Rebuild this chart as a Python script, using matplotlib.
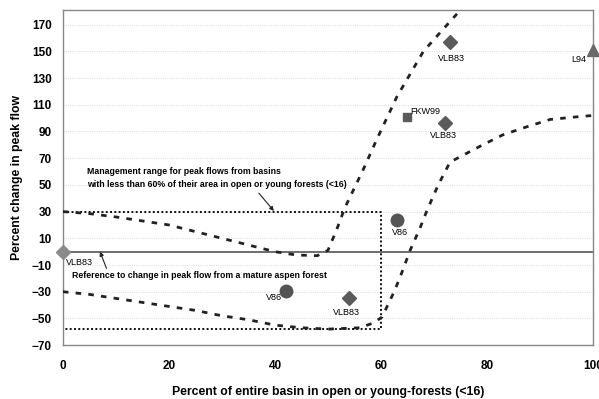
import numpy as np
import matplotlib.pyplot as plt

plt.rcParams['font.family'] = ['Liberation Sans', 'DejaVu Sans']

# upper envelope of the peak-flow response
upper_x = [0, 5, 10, 15, 20, 25, 30, 35, 40, 44, 48, 50, 51.6, 53.2, 56.6, 59.2, 63, 68, 72.5, 75]
upper_y = [30, 28.5, 26, 23, 20, 15, 10, 5, 0, -2.5, -3, 1, 16, 33, 61, 84, 116, 150, 170, 181]

# lower envelope of the peak-flow response
lower_x = [0, 5, 10, 15, 20, 25, 30, 35, 40, 45, 50, 56, 58.5, 60.2, 61.1, 62.6, 64, 65.5, 67.4,
           68.7, 69.8, 70.8, 72.5, 73, 74.9, 76.8, 79.2, 83, 87.5, 91.9, 97, 100]
lower_y = [-30, -32, -35, -38, -41, -44, -48, -51, -55, -57, -58, -57, -53.5, -49, -41.5, -29, -15, 1, 18,
           31, 41, 50, 63, 67, 71, 75, 80, 87.5, 93.5, 99, 101, 102]

# management range box
box_x = [0, 60]
box_y = [-58, 30]

# study points
pts_x = [0, 42, 54, 63, 65, 72, 73, 100]
pts_y = [0, -29.5, -35, 24, 101, 96, 157, 151]
pts_lab = ['VLB83', 'V86', 'VLB83', 'V86', 'FKW99', 'VLB83', 'VLB83', 'L94']
pts_mark = ['D', 'o', 'D', 'o', 's', 'D', 'D', '^']
pts_col = ['#8a8a8a', '#555555', '#5a5a5a', '#555555', '#5a5a5a', '#5a5a5a', '#5a5a5a', '#6a6a6a']
pts_size = [7, 9, 7, 9, 6, 7, 7, 9]
lab_off = [(2, -8), (-8, -5), (-2, -10), (2, -9), (2, 4), (-1, -9), (1, -12), (-10, -7)]
lab_ha = ['left', 'center', 'center', 'center', 'left', 'center', 'center', 'center']

fig = plt.figure(figsize=(5.99, 3.99), dpi=100)
ax = fig.add_axes([0.105, 0.135, 0.885, 0.84])

for yv in np.arange(-70, 181, 20):
    ax.axhline(yv, color='#d0d0d0', lw=0.6, ls=':', zorder=0)

ax.axhline(0, color='#555555', lw=1.2, zorder=1)

ax.plot([box_x[0], box_x[1], box_x[1], box_x[0], box_x[0]],
        [box_y[1], box_y[1], box_y[0], box_y[0], box_y[1]],
        color='#111111', lw=1.4, ls=(0, (1, 1.2)), zorder=2)

ax.plot(upper_x, upper_y, color='#222222', lw=2, ls=(0, (2, 2.6)), zorder=3)
ax.plot(lower_x, lower_y, color='#222222', lw=2, ls=(0, (2, 2.6)), zorder=3)

for x, y, lab, m, c, s, off, ha in zip(pts_x, pts_y, pts_lab, pts_mark, pts_col, pts_size, lab_off, lab_ha):
    ax.plot(x, y, marker=m, color=c, markersize=s, ls='none', zorder=5, clip_on=False)
    ax.annotate(lab, (x, y), xytext=off, textcoords='offset points', ha=ha, va='center',
                fontsize=6.5, zorder=6)

ax.annotate('Management range for peak flows from basins\n'
            'with less than 60% of their area in open or young forests (<16)',
            xy=(39.8, 30.5), xytext=(4.5, 55), fontsize=6.3, fontweight='bold',
            ha='left', va='center', linespacing=1.6,
            arrowprops=dict(arrowstyle='-|>', color='#222222', lw=0.8, mutation_scale=6,
                            shrinkA=1, shrinkB=0, relpos=(0.65, 0)))
ax.annotate('Reference to change in peak flow from a mature aspen forest',
            xy=(7, 0), xytext=(1.7, -18), fontsize=6.3, fontweight='bold',
            ha='left', va='center',
            arrowprops=dict(arrowstyle='-|>', color='#222222', lw=0.8, mutation_scale=6,
                            shrinkA=0, shrinkB=0, relpos=(0.14, 1)))

ax.set_xlim(0, 100)
ax.set_ylim(-70, 181)
ax.set_xticks(range(0, 101, 20))
ax.set_yticks(range(-70, 171, 20))
ax.tick_params(axis='both', length=0, labelsize=8.5)
ax.tick_params(axis='x', pad=11)
ax.tick_params(axis='y', pad=8)
for t in ax.get_xticklabels() + ax.get_yticklabels():
    t.set_fontweight('bold')

for sp in ax.spines.values():
    sp.set_color('#888888')
    sp.set_linewidth(1)

ax.set_xlabel('Percent of entire basin in open or young-forests (<16)', fontsize=8.8,
              fontweight='bold', labelpad=10)
ax.set_ylabel('Percent change in peak flow', fontsize=8.8, fontweight='bold', labelpad=6)

fig.savefig('out.png', dpi=100)
